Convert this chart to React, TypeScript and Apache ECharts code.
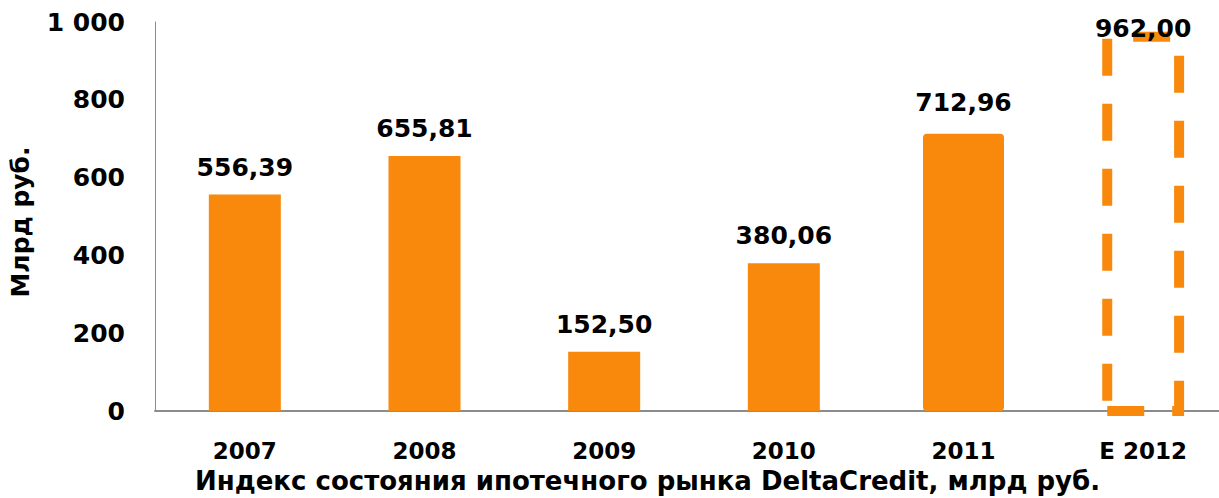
import React, { useEffect, useRef } from "react";
import * as echarts from "echarts";

const categories = ["2007", "2008", "2009", "2010", "2011", "E 2012"];
const values = [556.39, 655.81, 152.5, 380.06, 712.96, 962.0];
const yTicks = { min: 0, max: 1000, interval: 200 };
const yAxisTitle = "Млрд руб.";
const chartTitle = "Индекс состояния ипотечного рынка DeltaCredit, млрд руб.";

const ORANGE = "#F8890C";
const FONT = "'DejaVu Sans', sans-serif";

const pick = (idx: number[]) => values.map((v, i) => (idx.includes(i) ? v : null));

export default function App() {
  const ref = useRef<HTMLDivElement>(null);
  useEffect(() => {
    if (!ref.current) return;
    const chart = echarts.init(ref.current, undefined, { renderer: "svg" });
    const labelBase = {
      show: true,
      position: "top",
      distance: 15,
      fontFamily: FONT,
      fontSize: 25,
      fontWeight: "bold",
      color: "#000",
      formatter: (p: any) => Number(p.value).toFixed(2).replace(".", ","),
    };
    const hiddenX = () => ({
      type: "category",
      data: categories,
      show: false,
      gridIndex: 0,
    });
    chart.setOption({
      animation: false,
      textStyle: { fontFamily: FONT },
      title: {
        text: chartTitle,
        left: 195,
        top: 468,
        padding: 0,
        textStyle: { fontFamily: FONT, fontSize: 26, fontWeight: "bold", color: "#000" },
      },
      grid: { left: 151, right: 0, top: 22, bottom: 87, containLabel: false },
      xAxis: [
        {
          type: "category",
          data: categories,
          axisLine: { show: true, lineStyle: { color: "#8c8c8c", width: 2 } },
          axisTick: { show: false },
          axisLabel: {
            margin: 28,
            fontFamily: FONT,
            fontSize: 23,
            fontWeight: "bold",
            color: "#000",
          },
        },
        hiddenX(),
        hiddenX(),
      ],
      yAxis: {
        type: "value",
        min: yTicks.min,
        max: yTicks.max,
        interval: yTicks.interval,
        name: yAxisTitle,
        nameLocation: "middle",
        nameGap: 122,
        nameTextStyle: {
          fontFamily: FONT,
          fontSize: 25,
          fontWeight: "bold",
          color: "#000",
          padding: [0, 11, 0, 0],
        },
        axisLine: { show: true, lineStyle: { color: "#8c8c8c", width: 1 } },
        axisTick: { show: false },
        splitLine: { show: false },
        axisLabel: {
          margin: 30,
          fontFamily: FONT,
          fontSize: 25,
          fontWeight: "bold",
          color: "#000",
          formatter: (v: number) => (v >= 1000 ? "1 000".replace("1", String(Math.floor(v / 1000))) : String(v)),
        },
      },
      series: [
        {
          type: "bar",
          xAxisIndex: 0,
          data: pick([0, 1, 2, 3]),
          barWidth: 72,
          itemStyle: { color: ORANGE },
          label: labelBase,
        },
        {
          type: "bar",
          xAxisIndex: 1,
          data: pick([4]),
          barWidth: 81,
          itemStyle: { color: ORANGE, borderRadius: 4 },
          label: { ...labelBase, distance: 19 },
        },
        {
          type: "bar",
          xAxisIndex: 2,
          data: pick([5]),
          barWidth: 72,
          itemStyle: { color: "rgba(255,255,255,0)" },
          label: { ...labelBase, distance: -4 },
          z: 3,
        },
        {
          type: "custom",
          xAxisIndex: 2,
          data: values.map((v, i) => [i, v]).filter((d) => d[0] === 5),
          silent: true,
          z: 2,
          renderItem: (params: any, api: any) => {
            const base = api.coord([api.value(0), 0]);
            const top = api.coord([api.value(0), api.value(1)]);
            const w = api.size([1, 0])[0] * 0.4;
            return {
              type: "rect",
              shape: { x: base[0] - w / 2, y: base[1], width: w, height: top[1] - base[1] },
              style: { fill: "none", stroke: ORANGE, lineWidth: 10, lineDash: [37, 28] },
            };
          },
        },
      ],
    });
    return () => chart.dispose();
  }, []);
  return (
    <div style={{ position: "absolute", left: 0, top: 0, width: 1219, height: 498, overflow: "hidden" }}>
      <div ref={ref} style={{ width: 1233, height: 498 }} />
    </div>
  );
}
